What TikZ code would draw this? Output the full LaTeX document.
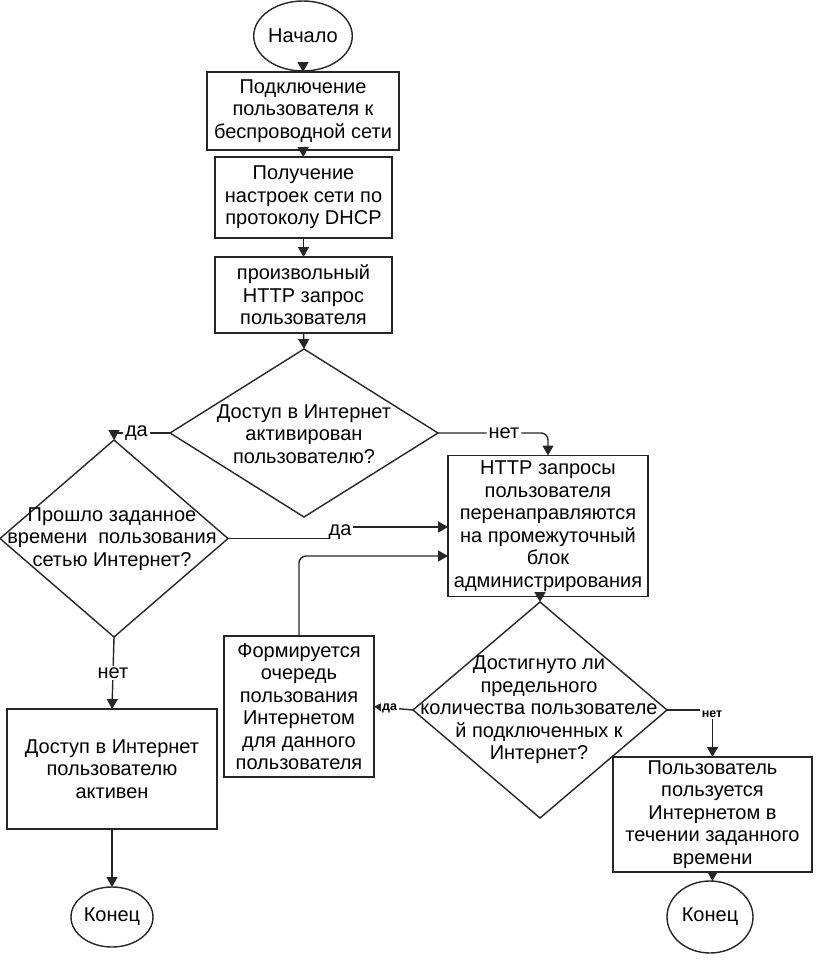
\documentclass[tikz,border=0pt]{standalone}
\usepackage{fontspec}
\setmainfont{Liberation Sans}
\usetikzlibrary{shapes.geometric,arrows.meta}
\begin{document}
\begin{tikzpicture}[x=1pt,y=-1pt,
  every node/.style={inner sep=0pt, outer sep=0pt},
  base/.style={font=\fontsize{20}{22.5}\selectfont, align=center, text=black},
  box/.style={base, draw=black!85, line width=1.4pt, rectangle},
  term/.style={base, draw=black!85, line width=1.4pt, ellipse},
  dia/.style={draw=black!85, line width=1.4pt, diamond},
  txt/.style={base},
  arr/.style={-{Triangle[length=10pt,width=11pt]}, line width=1.4pt, draw=black!85},
  conn/.style={line width=1.4pt, draw=black!85},
  lbl/.style={base, fill=white, inner sep=2pt},
  slbl/.style={font=\bfseries\fontsize{12.5}{14}\selectfont, fill=white, inner sep=1.5pt}
]
\useasboundingbox (0,0) rectangle (830,969);

% terminals
\node[term, minimum width=98pt, minimum height=70pt] (st) at (303,36) {Начало};
\node[term, minimum width=82pt, minimum height=60pt] (e1) at (112,917) {Конец};
\node[term, minimum width=86pt, minimum height=72pt] (e2) at (710,917) {Конец};

% process boxes
\node[box, minimum width=192pt, minimum height=78pt] (b1) at (303,111)
  {Подключение\\пользователя к\\беспроводной сети};
\node[box, minimum width=177pt, minimum height=81pt] (b2) at (303.5,197.5)
  {Получение\\настроек сети по\\протоколу DHCP};
\node[box, minimum width=177pt, minimum height=76pt] (b3) at (303.5,295)
  {произвольный\\HTTP запрос\\пользователя};
\node[box, minimum width=200pt, minimum height=141pt] (b4) at (548,526)
  {HTTP запросы\\пользователя\\перенаправляются\\на промежуточный\\блок\\администрирования};
\node[box, minimum width=150pt, minimum height=141pt] (q) at (299,706.5)
  {Формируется\\очередь\\пользования\\Интернетом\\для данного\\пользователя};
\node[box, minimum width=199pt, minimum height=115pt] (b5) at (712.5,814.5)
  {Пользователь\\пользуется\\Интернетом в\\течении заданного\\времени};
\node[box, minimum width=210pt, minimum height=120pt] (b6) at (112,769)
  {Доступ в Интернет\\пользователю\\активен};

% decisions
\node[dia, minimum width=268pt, minimum height=168pt] (d1) at (304,433) {};
\node[txt] at (304,434) {Доступ в Интернет\\активирован\\пользователю?};
\node[dia, minimum width=228pt, minimum height=197pt] (d2) at (114,538.5) {};
\node[txt] at (112,539) {Прошло заданное\\времени\ \ пользования\\сетью Интернет?};
\node[dia, minimum width=254pt, minimum height=216pt] (d3) at (540,710) {};
\node[txt] at (539,710) {Достигнуто ли\\предельного\\количества пользователе\\й подключенных к\\Интернет?};

% straight arrows
\draw[arr] (st) -- (b1);
\draw[arr] (b1) -- (b2);
\draw[arr] (b2) -- (b3);
\draw[arr] (b3.south) -- (d1.north);
\draw[arr] (d3.north |- b4.south) -- (d3.north);
\draw[arr] (b5.south) -- (b5.south |- e2.north);
\draw[arr] (b6.south) -- (b6.south |- e1.north);

% d1 yes
\draw[arr] (d1.west) -- node[lbl, pos=0.6]{да} (d1.west -| d2.north) -- (d2.north);
% d1 no
\draw[arr, rounded corners=7pt] (d1.east) -- node[lbl, pos=0.6]{нет} (d1.east -| b4.north) -- (b4.north);

% d2 yes (stepped line through label)
\node[base] (lda2) at (340,532) {да};
\draw[conn] (d2.east) -- (d2.east -| lda2.west);
\coordinate (e2y) at (353,527);
\draw[arr] (e2y) -- (e2y -| b4.west);
% d2 no
\draw[arr] (d2.south) -- node[lbl]{нет} (b6.north);

% feedback from queue
\coordinate (fb) at (299,556);
\draw[arr, rounded corners=7pt] (q.north) -- (fb) -- (fb -| b4.west);

% d3 yes / no
\draw[arr] (d3.west) -- node[slbl, pos=0.6]{да} (q.east);
\draw[arr] (d3.east) -- (d3.east -| b5.north) -- (b5.north);
\node[slbl] at (712,714) {нет};
\end{tikzpicture}
\end{document}
